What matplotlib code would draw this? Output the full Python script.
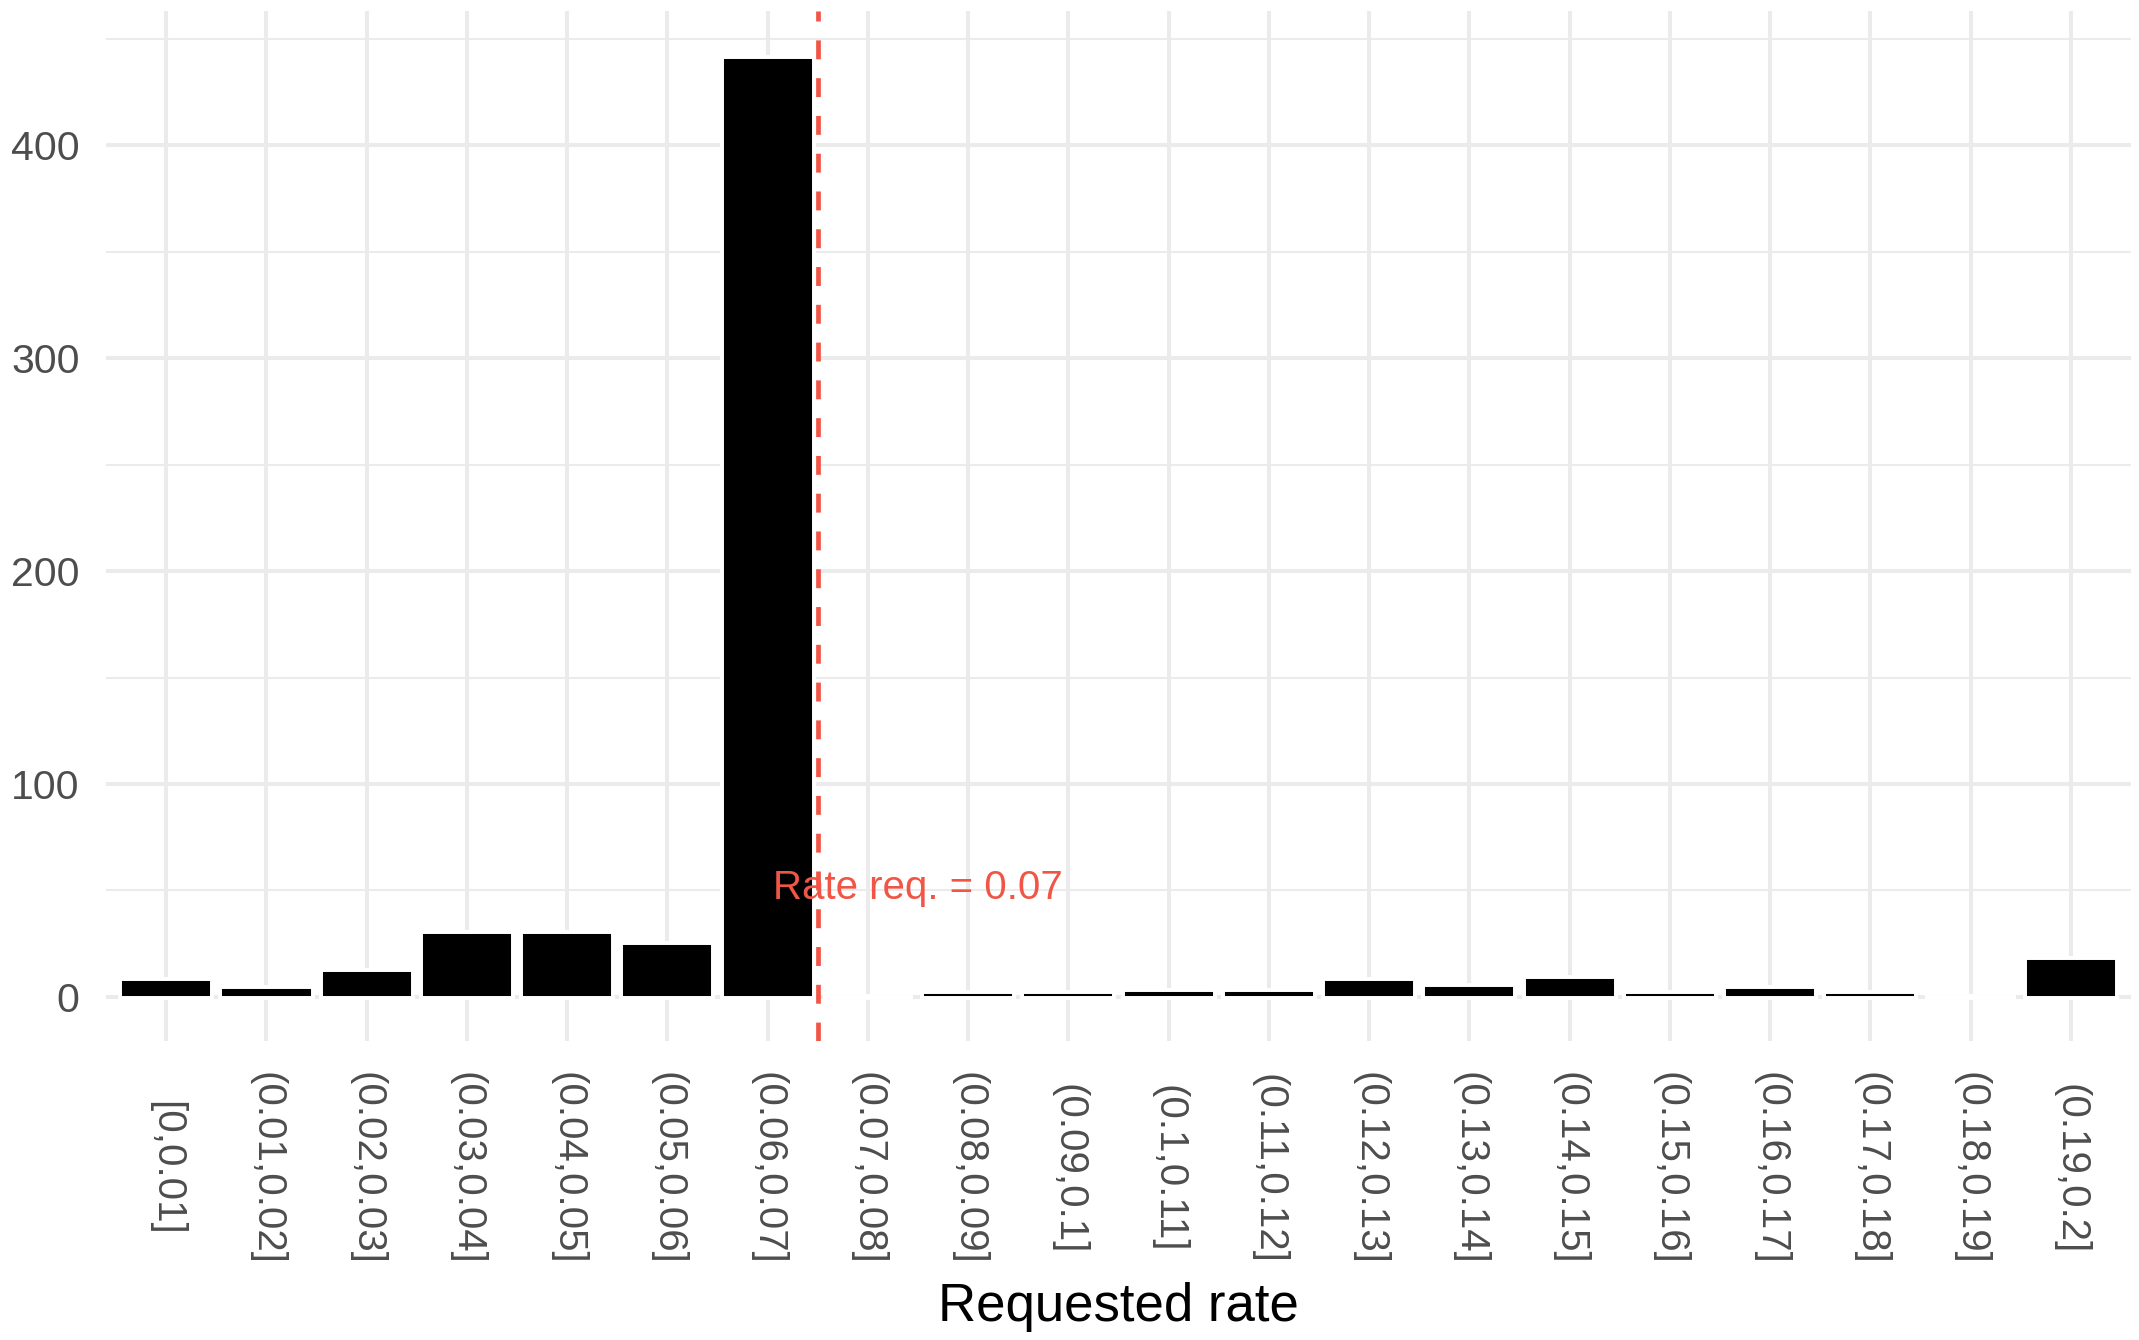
import matplotlib
matplotlib.use("Agg")
import matplotlib.pyplot as plt
import numpy as np

# histogram of requested rates (bins of 0.01)
bins = ["[0,0.01]", "(0.01,0.02]", "(0.02,0.03]", "(0.03,0.04]", "(0.04,0.05]",
        "(0.05,0.06]", "(0.06,0.07]", "(0.07,0.08]", "(0.08,0.09]", "(0.09,0.1]",
        "(0.1,0.11]", "(0.11,0.12]", "(0.12,0.13]", "(0.13,0.14]", "(0.14,0.15]",
        "(0.15,0.16]", "(0.16,0.17]", "(0.17,0.18]", "(0.18,0.19]", "(0.19,0.2]"]
counts = [8, 4, 12, 30, 30, 25, 441, 0, 2, 2, 3, 3, 8, 5, 9, 2, 4, 2, 0, 18]
y_ticks = [0, 100, 200, 300, 400]
y_minor = [50, 150, 250, 350, 450]
rate_req = 0.07
rate_label = "Rate req. = 0.07"

plt.rcParams['font.family'] = ['Liberation Sans', 'DejaVu Sans']
red = '#F05545'
grid = '#EBEBEB'

fig = plt.figure(figsize=(21.39, 13.40), dpi=100)
ax = fig.add_axes([106 / 2139, 1 - 1041 / 1340, (2131 - 106) / 2139, (1041 - 11) / 1340])

x = np.arange(1, len(bins) + 1)
# white halo behind the bars (cuts the grid lines like the original)
ax.bar(x, counts, width=0.9, color='white', edgecolor='white', linewidth=4.3, zorder=2)
ax.bar(x, counts, width=0.9, color='black', edgecolor='white', linewidth=1.4, zorder=3)

# dashed line sits between the bins on either side of the requested rate
line_x = int(round(rate_req / 0.01)) + 0.5
ax.axvline(line_x, color=red, linewidth=3.4, linestyle=(0, (4, 4)), zorder=4)
ax.text(line_x + 1, 51, rate_label, color=red, fontsize=29, ha='center', va='center', zorder=5)

ax.set_xlim(0.4, 20.6)
ax.set_ylim(-20.7, 463)
ax.set_xticks(x)
ax.set_xticklabels(bins, rotation=270, fontsize=29, color='#4D4D4D', va='center', ha='center')
ax.set_yticks(y_ticks)
ax.set_yticklabels([str(v) for v in y_ticks], fontsize=29.5, color='#4D4D4D')
ax.set_yticks(y_minor, minor=True)
ax.tick_params(axis='x', length=0, pad=92)
ax.tick_params(axis='y', which='both', length=0, pad=19)

for v in y_ticks:
    ax.axhline(v, color=grid, linewidth=2.9, zorder=1)
for v in y_minor:
    ax.axhline(v, color=grid, linewidth=1.5, zorder=1)
for v in x:
    ax.axvline(v, color=grid, linewidth=2.9, zorder=1)

for s in ax.spines.values():
    s.set_visible(False)

ax.set_xlabel("Requested rate", fontsize=38, color='black', va='center')
ax.xaxis.set_label_coords(0.5, -0.258)

fig.savefig("out.png", dpi=100)
